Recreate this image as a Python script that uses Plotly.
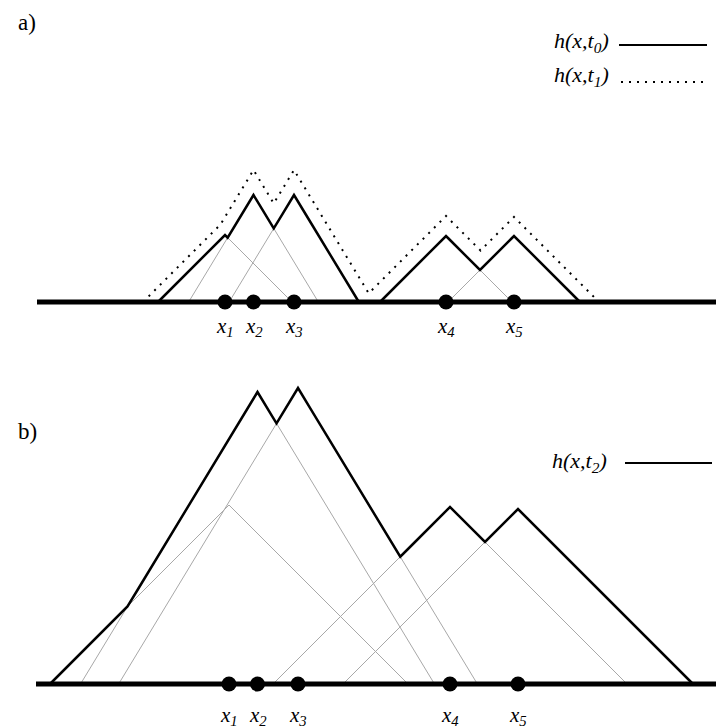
import numpy as np
import plotly.graph_objects as go

# ---------------- data ----------------
site_names = ["1", "2", "3", "4", "5"]
site_pos = [225.0, 253.5, 294.0, 446.0, 514.0]      # nucleation sites (x)
cone_slope = [1.0, 1.65, 1.65, 1.0, 1.0]            # lateral slope of each cone
height_t0 = [67, 107, 107, 66, 66]                  # cone heights at t0
height_t1 = [82, 132, 132, 86, 85]                  # cone heights at t1
height_t2 = [179, 292, 296, 177, 175]               # cone heights at t2
legend_a = ["h(x,t<sub>0</sub>)", "h(x,t<sub>1</sub>)"]
legend_b = ["h(x,t<sub>2</sub>)"]
panel_names = ["a)", "b)"]
baseline_a = [37, 720]
baseline_b = [32, 720]

C = np.array(site_pos)
S = np.array(cone_slope)


def envelope(x, heights):
    x = np.asarray(x, float)[..., None]
    h = np.array(heights, float)
    return np.maximum(0.0, h - S * np.abs(x - C)).max(axis=-1)


def all_lines(heights):
    out = [(0.0, 0.0)]
    for c, s, h in zip(site_pos, cone_slope, heights):
        out.append((h - s * c, s))
        out.append((h + s * c, -s))
    return out


def breakpoints(heights):
    L = all_lines(heights)
    xs = set()
    for c, s, h in zip(site_pos, cone_slope, heights):
        xs.update([c - h / s, c, c + h / s])
    for i in range(len(L)):
        for j in range(i + 1, len(L)):
            a1, b1 = L[i]
            a2, b2 = L[j]
            if abs(b1 - b2) > 1e-12:
                xs.add((a2 - a1) / (b1 - b2))
    lo = min(c - h / s for c, s, h in zip(site_pos, cone_slope, heights))
    hi = max(c + h / s for c, s, h in zip(site_pos, cone_slope, heights))
    return sorted(x for x in xs if lo - 1e-9 <= x <= hi + 1e-9)


def envelope_path(heights):
    xs = breakpoints(heights)
    ys = envelope(xs, heights)
    px, py = [], []
    for k in range(len(xs) - 1):
        x0, x1, y0, y1 = xs[k], xs[k + 1], ys[k], ys[k + 1]
        if y0 <= 1e-9 and y1 <= 1e-9:
            if px and px[-1] is not None:
                px.append(None)
                py.append(None)
            continue
        if not px or px[-1] is None:
            px.append(x0)
            py.append(y0)
        px.append(x1)
        py.append(y1)
    return px, py


def hidden_path(heights):
    L = all_lines(heights)
    gx, gy = [], []
    for c, s, h in zip(site_pos, cone_slope, heights):
        for side in (-1, 1):
            xa, xb = sorted([c, c + side * h / s])
            a_i = h + side * s * c
            b_i = -side * s
            cand = {xa, xb}
            for a2, b2 in L:
                if abs(b2 - b_i) > 1e-12:
                    xi = (a2 - a_i) / (b_i - b2)
                    if xa < xi < xb:
                        cand.add(xi)
            cand = sorted(cand)
            segs = []
            for k in range(len(cand) - 1):
                m = 0.5 * (cand[k] + cand[k + 1])
                yi = a_i + b_i * m
                if envelope([m], heights)[0] > yi + 1e-6:
                    if segs and abs(segs[-1][1] - cand[k]) < 1e-9:
                        segs[-1][1] = cand[k + 1]
                    else:
                        segs.append([cand[k], cand[k + 1]])
            for u, v in segs:
                gx += [u, v, None]
                gy += [a_i + b_i * u, a_i + b_i * v, None]
    return gx, gy


FONT = "Liberation Serif, DejaVu Serif, Times New Roman, serif"
GRAY = "#a8a8a8"

fig = go.Figure()

# ---------------- panel a ----------------
gx, gy = hidden_path(height_t0)
fig.add_trace(go.Scatter(x=gx, y=gy, mode="lines", line=dict(color=GRAY, width=1),
                         xaxis="x", yaxis="y", hoverinfo="skip"))
ex, ey = envelope_path(height_t1)
fig.add_trace(go.Scatter(x=ex, y=ey, mode="lines",
                         line=dict(color="black", width=2, dash="2px,6px"),
                         xaxis="x", yaxis="y"))
ex, ey = envelope_path(height_t0)
fig.add_trace(go.Scatter(x=ex, y=ey, mode="lines", line=dict(color="black", width=2.5),
                         xaxis="x", yaxis="y"))
fig.add_trace(go.Scatter(x=baseline_a, y=[0, 0], mode="lines", line=dict(color="black", width=5),
                         xaxis="x", yaxis="y"))
fig.add_trace(go.Scatter(x=site_pos, y=[0] * len(site_pos), mode="markers",
                         marker=dict(color="black", size=15), xaxis="x", yaxis="y"))

# ---------------- panel b ----------------
gx, gy = hidden_path(height_t2)
fig.add_trace(go.Scatter(x=gx, y=gy, mode="lines", line=dict(color=GRAY, width=1),
                         xaxis="x2", yaxis="y2", hoverinfo="skip"))
ex, ey = envelope_path(height_t2)
fig.add_trace(go.Scatter(x=ex, y=ey, mode="lines", line=dict(color="black", width=2.5),
                         xaxis="x2", yaxis="y2"))
fig.add_trace(go.Scatter(x=baseline_b, y=[0, 0], mode="lines", line=dict(color="black", width=5),
                         xaxis="x2", yaxis="y2"))
fig.add_trace(go.Scatter(x=site_pos, y=[0] * len(site_pos), mode="markers",
                         marker=dict(color="black", size=15), xaxis="x2", yaxis="y2"))

annotations = []
for name, xp in zip(site_names, site_pos):
    annotations.append(dict(x=xp, y=-25, xref="x", yref="y", showarrow=False,
                            text=f"<i>x<sub>{name}</sub></i>",
                            font=dict(family=FONT, size=21, color="black"),
                            xanchor="center", yanchor="middle"))
    annotations.append(dict(x=xp, y=-32, xref="x2", yref="y2", showarrow=False,
                            text=f"<i>x<sub>{name}</sub></i>",
                            font=dict(family=FONT, size=21, color="black"),
                            xanchor="center", yanchor="middle"))

# legends
annotations.append(dict(x=611, y=260, xref="x", yref="y", showarrow=False, text=f"<i>{legend_a[0]}</i>",
                        font=dict(family=FONT, size=22, color="black"), xanchor="right", yanchor="middle"))
annotations.append(dict(x=611, y=226, xref="x", yref="y", showarrow=False, text=f"<i>{legend_a[1]}</i>",
                        font=dict(family=FONT, size=22, color="black"), xanchor="right", yanchor="middle"))
annotations.append(dict(x=605, y=222, xref="x2", yref="y2", showarrow=False, text=f"<i>{legend_b[0]}</i>",
                        font=dict(family=FONT, size=22, color="black"), xanchor="right", yanchor="middle"))
annotations.append(dict(x=27 / 716, y=1 - 22 / 728, xref="paper", yref="paper", showarrow=False,
                        text=panel_names[0], font=dict(family=FONT, size=23, color="black"),
                        xanchor="center", yanchor="middle"))
annotations.append(dict(x=27 / 716, y=1 - 431 / 728, xref="paper", yref="paper", showarrow=False,
                        text=panel_names[1], font=dict(family=FONT, size=23, color="black"),
                        xanchor="center", yanchor="middle"))

shapes = [
    dict(type="line", xref="x", yref="y", x0=619, x1=707, y0=257, y1=257,
         line=dict(color="black", width=2)),
    dict(type="line", xref="x", yref="y", x0=621, x1=703, y0=220, y1=220,
         line=dict(color="black", width=2, dash="2px,6px")),
    dict(type="line", xref="x2", yref="y2", x0=621, x1=708, y0=221, y1=221,
         line=dict(color="black", width=2)),
]

ax_common = dict(visible=False, showgrid=False, zeroline=False, fixedrange=True)
fig.update_layout(
    width=716, height=728,
    margin=dict(l=0, r=0, t=0, b=0),
    paper_bgcolor="white", plot_bgcolor="white",
    showlegend=False,
    xaxis=dict(domain=[0, 1], range=[0, 716], anchor="y", **ax_common),
    yaxis=dict(domain=[1 - 350 / 728, 1], range=[-48, 302], anchor="x", **ax_common),
    xaxis2=dict(domain=[0, 1], range=[-4, 712], anchor="y2", **ax_common),
    yaxis2=dict(domain=[0, 368 / 728], range=[-44, 324], anchor="x2", **ax_common),
    annotations=annotations,
    shapes=shapes,
)

fig.write_html("out.html", config={"displayModeBar": False},
               post_script="document.body.style.margin='0';document.body.style.overflow='hidden';")
